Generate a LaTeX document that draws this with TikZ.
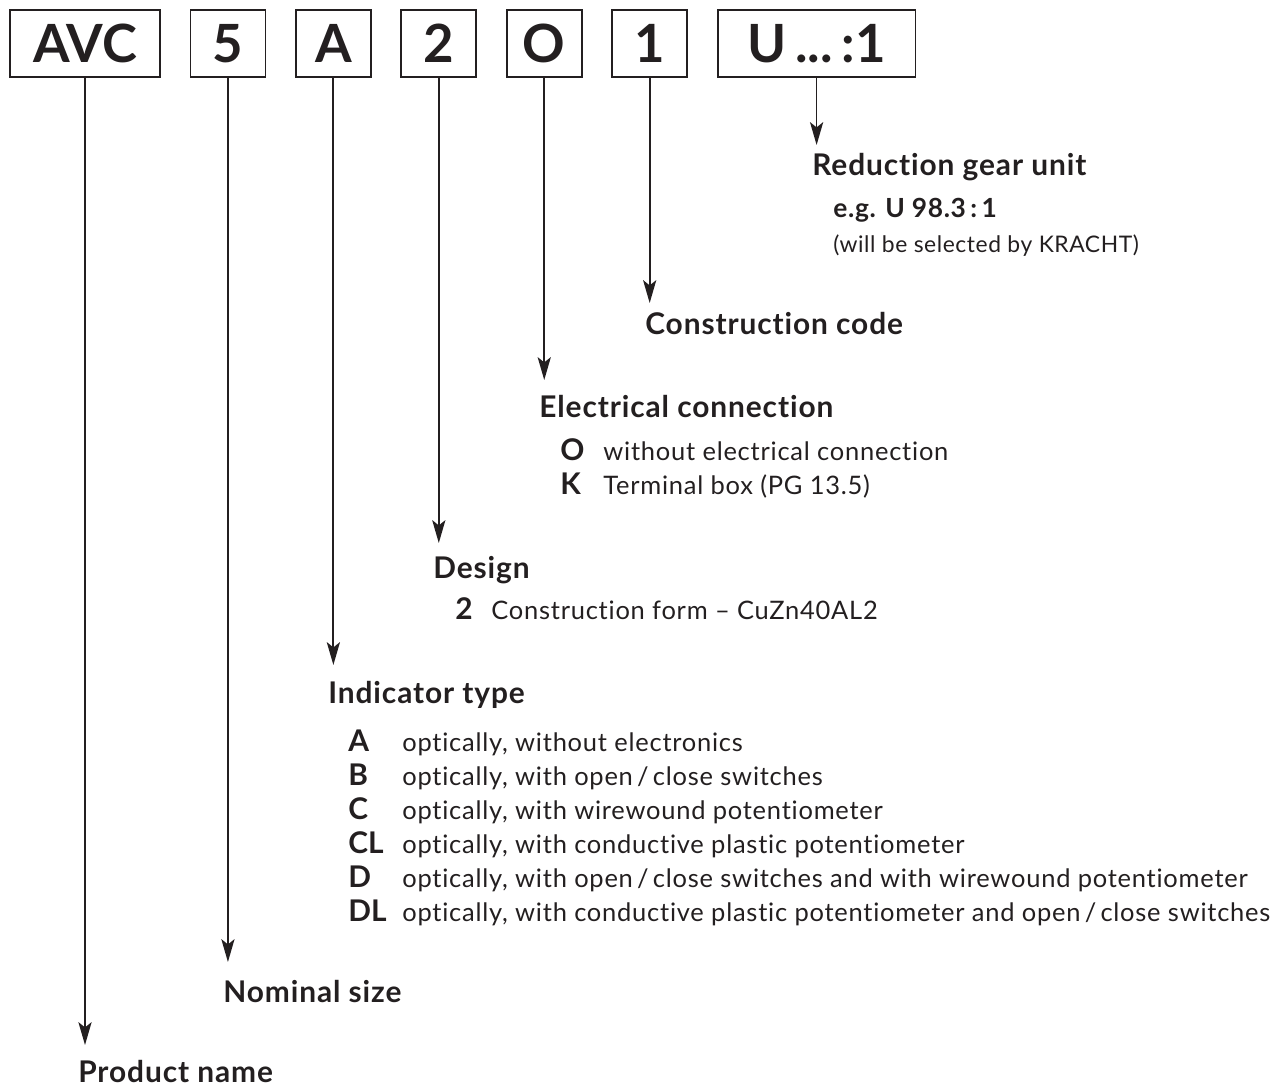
\documentclass[tikz,border=0pt]{standalone}
\usepackage{fontspec}
\setmainfont{Lato}[Ligatures={TeX,NoCommon}]
\usepackage{tikz}
\usetikzlibrary{arrows.meta,positioning}
\definecolor{ink}{RGB}{35,31,32}
\tikzstyle{codebox} = [rectangle, draw=ink, line width=1pt, minimum width=1.5cm, minimum height=1.34cm, inner sep=0pt, text=ink, font=\bfseries\fontsize{30}{30}\selectfont]
\tikzstyle{widebox} = [codebox, minimum width=3cm]
\tikzstyle{heading} = [anchor=base west, inner sep=0pt, text=ink, font=\bfseries\fontsize{17}{20}\selectfont\addfontfeature{LetterSpace=3}]
\tikzstyle{keyletter} = [anchor=base west, inner sep=0pt, text=ink, font=\bfseries\fontsize{17}{20}\selectfont]
\tikzstyle{example} = [keyletter, font=\bfseries\fontsize{15}{18}\selectfont\addfontfeature{LetterSpace=2.5}]
\tikzstyle{keytext} = [anchor=base west, inner sep=0pt, text=ink, font=\fontsize{14.5}{17}\selectfont\addfontfeature{LetterSpace=3}]
\tikzstyle{remark} = [keytext, font=\fontsize{13}{15}\selectfont\addfontfeature{LetterSpace=2.5}]
\tikzstyle{pointer} = [draw=ink, line width=1pt, -{Stealth[length=13pt,width=7.5pt,inset=3pt]}]

\begin{document}
\begin{tikzpicture}[x=0.02cm,y=-0.02cm,node distance=0.574cm]
    \useasboundingbox (0,0) rectangle (1275,1088);

    % type code
    \node [widebox] (avc) at (85,43.5) {AVC};
    \node [codebox, right=of avc] (size) {5};
    \node [codebox, right=of size] (ind) {A};
    \node [codebox, right=of ind] (des) {2};
    \node [codebox, right=of des] (elc) {O};
    \node [codebox, right=of elc] (con) {1};
    \node [codebox, minimum width=3.96cm, right=of con] (gear) {U\,...\,:1};

    \node [heading] (gearhd) at (812,175) {Reduction gear unit};
    \node [example] (gearex) at (833,217) {e.g. U 98.3\,:\,1};
    \node [remark] (gearsel) at (833,252) {(will be selected by KRACHT)};

    \node [heading] (conhd) at (645,334) {Construction code};

    \node [heading] (elchd) at (539,417) {Electrical connection};
    \node [keyletter] (elcO) at (560,460) {O};
    \node [keytext] (elcOt) at (603,460) {without electrical connection};
    \node [keyletter] (elcK) at (560,494) {K};
    \node [keytext] (elcKt) at (603,494) {Terminal box (PG 13.5)};

    \node [heading] (deshd) at (433,578) {Design};
    \node [keyletter] (des2) at (455,619) {2};
    \node [keytext] (des2t) at (491,619) {Construction form -- CuZn40AL2};

    \node [heading] (indhd) at (328,703) {Indicator type};
    \node [keyletter] (indA) at (348,751) {A};
    \node [keytext] (indAt) at (402,751) {optically, without electronics};
    \node [keyletter] (indB) at (348,785) {B};
    \node [keytext] (indBt) at (402,785) {optically, with open\,/\,close switches};
    \node [keyletter] (indC) at (348,819) {C};
    \node [keytext] (indCt) at (402,819) {optically, with wirewound potentiometer};
    \node [keyletter] (indCL) at (348,853) {CL};
    \node [keytext] (indCLt) at (402,853) {optically, with conductive plastic potentiometer};
    \node [keyletter] (indD) at (348,887) {D};
    \node [keytext] (indDt) at (402,887) {optically, with open\,/\,close switches and with wirewound potentiometer};
    \node [keyletter] (indDL) at (348,921) {DL};
    \node [keytext] (indDLt) at (402,921) {optically, with conductive plastic potentiometer and open\,/\,close switches};

    \node [heading] (sizehd) at (223,1002) {Nominal size};
    \node [heading] (avchd) at (78,1082) {Product name};

    % arrow tips
    \coordinate (geartip) at (819,145);
    \coordinate (contip) at (651,303);
    \coordinate (elctip) at (546,380);
    \coordinate (destip) at (438,543);
    \coordinate (indtip) at (333,665);
    \coordinate (sizetip) at (229,962);
    \coordinate (avctip) at (83,1045);

    \draw[pointer] (gear.south) -- (gear.south |- geartip);
    \draw[pointer] (con.south) -- (con.south |- contip);
    \draw[pointer] (elc.south) -- (elc.south |- elctip);
    \draw[pointer] (des.south) -- (des.south |- destip);
    \draw[pointer] (ind.south) -- (ind.south |- indtip);
    \draw[pointer] (size.south) -- (size.south |- sizetip);
    \draw[pointer] (avc.south) -- (avc.south |- avctip);
\end{tikzpicture}
\end{document}
